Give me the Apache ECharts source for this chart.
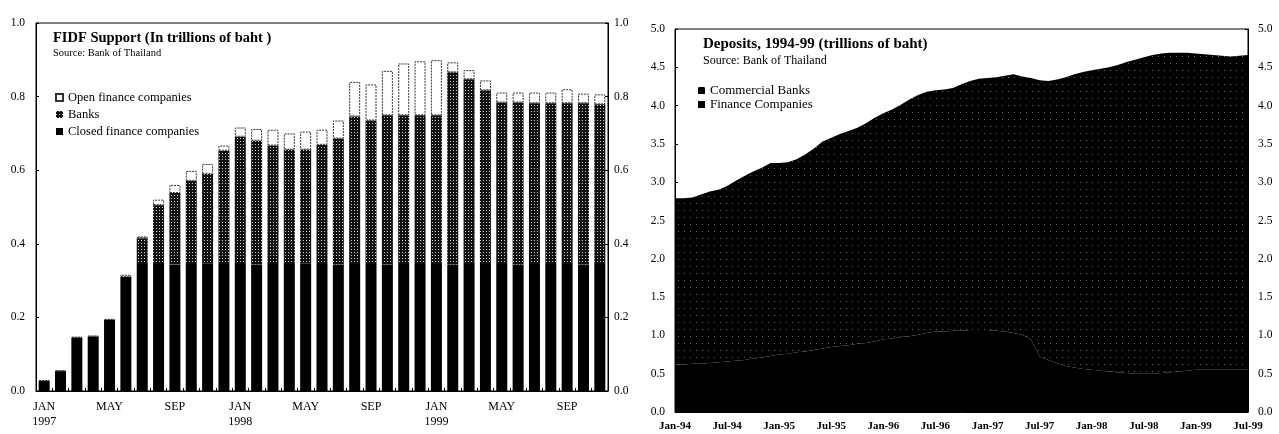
<!DOCTYPE html>
<html lang="en">
<head>
<meta charset="UTF-8">
<title>FIDF Support / Deposits</title>
<style>html,body{margin:0;padding:0;background:#fff;}</style>
</head>
<body>
<div id="main" style="width:1279px;height:434px;"></div>
<script src="https://cdn.jsdelivr.net/npm/echarts@6/dist/echarts.min.js"></script>
<script type="text/javascript">
// ---- left: FIDF support, Jan 1997 - Nov 1999 (trillions of baht)
var fidfMonths = [
  'JAN\n1997', 'FEB', 'MAR', 'APR', 'MAY', 'JUN', 'JUL', 'AUG', 'SEP', 'OCT', 'NOV', 'DEC',
  'JAN\n1998', 'FEB', 'MAR', 'APR', 'MAY', 'JUN', 'JUL', 'AUG', 'SEP', 'OCT', 'NOV', 'DEC',
  'JAN\n1999', 'FEB', 'MAR', 'APR', 'MAY', 'JUN', 'JUL', 'AUG', 'SEP', 'OCT', 'NOV'
];
var closedFinance = [
  0.027, 0.054, 0.145, 0.148, 0.193, 0.310, 0.345, 0.345, 0.344, 0.345, 0.346, 0.345,
  0.345, 0.344, 0.345, 0.345, 0.346, 0.345, 0.344, 0.345, 0.345, 0.344, 0.345, 0.345,
  0.345, 0.344, 0.345, 0.345, 0.345, 0.344, 0.345, 0.345, 0.345, 0.344, 0.345
];
var banks = [
  0, 0, 0, 0, 0, 0, 0.070, 0.160, 0.194, 0.226, 0.244, 0.308,
  0.346, 0.336, 0.322, 0.311, 0.310, 0.324, 0.342, 0.401, 0.390, 0.405, 0.404, 0.404,
  0.404, 0.522, 0.502, 0.472, 0.439, 0.440, 0.437, 0.437, 0.437, 0.438, 0.434
];
var openFinance = [
  0.003, 0.002, 0.002, 0.002, 0.003, 0.006, 0.005, 0.015, 0.022, 0.027, 0.027, 0.014,
  0.025, 0.032, 0.043, 0.044, 0.049, 0.041, 0.049, 0.094, 0.098, 0.121, 0.141, 0.147,
  0.150, 0.027, 0.025, 0.027, 0.027, 0.027, 0.029, 0.029, 0.038, 0.026, 0.027
];

// ---- right: deposits, Jan 1994 - Jul 1999 (trillions of baht)
var depYears = ['94', '95', '96', '97', '98', '99'];
var monthNames = ['Jan', 'Feb', 'Mar', 'Apr', 'May', 'Jun', 'Jul', 'Aug', 'Sep', 'Oct', 'Nov', 'Dec'];
var financeCompanies = [
  0.62, 0.62, 0.63, 0.63, 0.64, 0.65, 0.66, 0.67, 0.68, 0.70, 0.71, 0.73,
  0.75, 0.76, 0.78, 0.79, 0.81, 0.83, 0.85, 0.86, 0.87, 0.89, 0.90, 0.92,
  0.95, 0.96, 0.98, 0.99, 1.01, 1.03, 1.05, 1.05, 1.06, 1.06, 1.07, 1.07,
  1.07, 1.06, 1.05, 1.03, 1.01, 0.95, 0.72, 0.68, 0.64, 0.60, 0.58, 0.56,
  0.55, 0.54, 0.53, 0.52, 0.51, 0.50, 0.50, 0.50, 0.51, 0.52, 0.53, 0.54,
  0.55, 0.55, 0.55, 0.55, 0.55, 0.55, 0.55
];
var commercialBanks = [
  2.17, 2.17, 2.17, 2.21, 2.24, 2.25, 2.29, 2.35, 2.40, 2.44, 2.48, 2.52,
  2.50, 2.50, 2.52, 2.57, 2.63, 2.70, 2.73, 2.77, 2.80, 2.82, 2.87, 2.92,
  2.95, 2.99, 3.03, 3.09, 3.13, 3.15, 3.15, 3.16, 3.17, 3.22, 3.25, 3.28,
  3.29, 3.31, 3.34, 3.38, 3.37, 3.41, 3.61, 3.64, 3.70, 3.77, 3.83, 3.88,
  3.91, 3.94, 3.97, 4.01, 4.06, 4.10, 4.13, 4.16, 4.17, 4.17, 4.16, 4.15,
  4.13, 4.12, 4.11, 4.10, 4.09, 4.10, 4.11
];

var depMonths = [];
depYears.forEach(function (y) {
  monthNames.forEach(function (m) { depMonths.push(m + '-' + y); });
});
depMonths = depMonths.slice(0, commercialBanks.length);

var serif = '"Liberation Serif", "DejaVu Serif", serif';
var fmt1 = function (v) { return v.toFixed(1); };

function yAx(grid, pos, max, step, margin) {
  return {
    type: 'value', gridIndex: grid, position: pos, min: 0, max: max, interval: step,
    axisLine: { show: true, lineStyle: { color: '#000', width: 1 } },
    axisTick: { show: true, inside: true, length: 3, lineStyle: { color: '#000' } },
    splitLine: { show: false },
    axisLabel: { color: '#000', fontFamily: serif, fontSize: 11.5, margin: margin, formatter: fmt1 }
  };
}

var myChart = echarts.init(document.getElementById('main'));

myChart.setOption({
  backgroundColor: '#fff',
  animation: false,
  title: [{
    text: 'FIDF Support (In trillions of baht )',
    subtext: 'Source: Bank of Thailand',
    left: 53, top: 31, padding: 0, itemGap: 2,
    textStyle: { fontFamily: serif, fontSize: 14.5, fontWeight: 'bold', color: '#000' },
    subtextStyle: { fontFamily: serif, fontSize: 10.5, color: '#000' }
  }, {
    text: 'Deposits, 1994-99 (trillions of baht)',
    subtext: 'Source: Bank of Thailand',
    left: 703, top: 37, padding: 0, itemGap: 3,
    textStyle: { fontFamily: serif, fontSize: 15, fontWeight: 'bold', color: '#000' },
    subtextStyle: { fontFamily: serif, fontSize: 12, color: '#000' }
  }],
  legend: [{
    data: ['Open finance companies', 'Banks', 'Closed finance companies'],
    orient: 'vertical', left: 55, top: 91, padding: 0,
    icon: 'rect', itemWidth: 7, itemHeight: 7, itemGap: 4,
    textStyle: { fontFamily: serif, fontSize: 12.5, color: '#000', lineHeight: 12 }
  }, {
    data: ['Commercial Banks', 'Finance Companies'],
    orient: 'vertical', left: 698, top: 84, padding: 0,
    icon: 'rect', itemWidth: 7, itemHeight: 7, itemGap: 1,
    textStyle: { fontFamily: serif, fontSize: 13, color: '#000', lineHeight: 12 }
  }],
  grid: [
    { left: 36, top: 23, width: 572, height: 368, show: true, borderColor: '#000', borderWidth: 1 },
    { left: 675, top: 29, width: 573, height: 383, show: true, borderColor: '#000', borderWidth: 1 }
  ],
  xAxis: [{
    type: 'category', gridIndex: 0, data: fidfMonths,
    axisLine: { lineStyle: { color: '#000' } },
    axisTick: { show: true, inside: true, length: 3, interval: 0, lineStyle: { color: '#000' } },
    axisLabel: { interval: 3, color: '#000', fontFamily: serif, fontSize: 12, lineHeight: 15, margin: 8 }
  }, {
    type: 'category', gridIndex: 1, data: depMonths, boundaryGap: false,
    axisLine: { lineStyle: { color: '#000' } },
    axisTick: { show: true, inside: true, length: 4, interval: 5, lineStyle: { color: '#000' } },
    axisLabel: { interval: 5, color: '#000', fontFamily: serif, fontSize: 11, fontWeight: 'bold', margin: 9 }
  }],
  yAxis: [
    yAx(0, 'left', 1.0, 0.2, 11),
    yAx(0, 'right', 1.0, 0.2, 6),
    yAx(1, 'left', 5.0, 0.5, 10),
    yAx(1, 'right', 5.0, 0.5, 10)
  ],
  series: [{
    name: 'Closed finance companies', type: 'bar', stack: 'fidf',
    xAxisIndex: 0, yAxisIndex: 0, barWidth: 11,
    itemStyle: { color: '#000' },
    data: closedFinance
  }, {
    name: 'Banks', type: 'bar', stack: 'fidf',
    xAxisIndex: 0, yAxisIndex: 0, barWidth: 11,
    itemStyle: {
      color: '#111',
      decal: { symbol: 'rect', symbolSize: 1, dashArrayX: [1, 1.5], dashArrayY: [1, 1.5], color: 'rgba(255,255,255,0.8)' }
    },
    data: banks
  }, {
    name: 'Open finance companies', type: 'bar', stack: 'fidf',
    xAxisIndex: 0, yAxisIndex: 0, barWidth: 11,
    itemStyle: { color: '#fff', borderColor: '#333', borderWidth: 1, borderType: [2, 1] },
    data: openFinance
  }, {
    name: 'Finance Companies', type: 'line', stack: 'dep',
    xAxisIndex: 1, yAxisIndex: 2, symbol: 'none',
    lineStyle: { width: 0 },
    itemStyle: { color: '#000' },
    areaStyle: { color: '#000', opacity: 1 },
    data: financeCompanies
  }, {
    name: 'Commercial Banks', type: 'line', stack: 'dep',
    xAxisIndex: 1, yAxisIndex: 2, symbol: 'none',
    lineStyle: { width: 0 },
    itemStyle: {
      color: '#000',
      decal: { symbol: 'rect', symbolSize: 1, dashArrayX: [1, 5], dashArrayY: [1, 6], color: 'rgba(255,255,255,0.4)' }
    },
    areaStyle: { opacity: 1 },
    data: commercialBanks
  }]
});
</script>
</body>
</html>
